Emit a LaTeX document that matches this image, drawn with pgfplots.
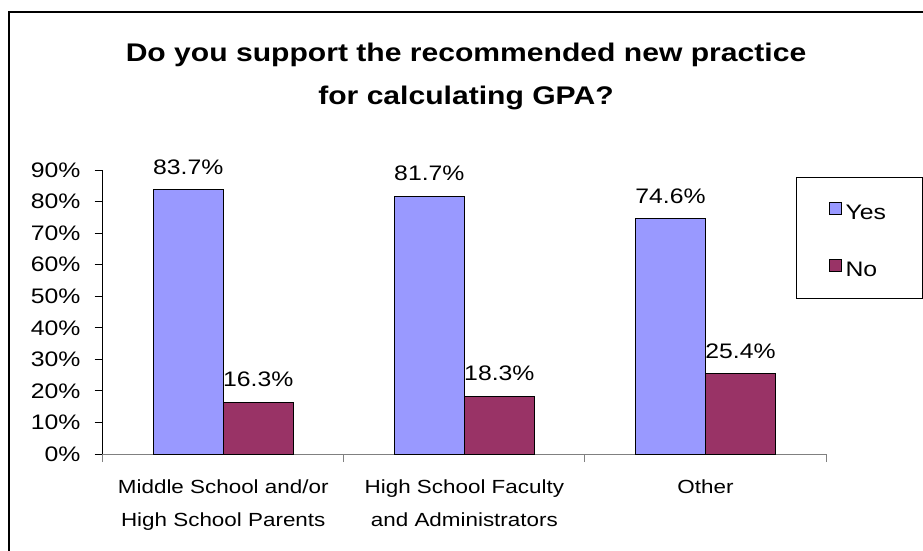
\documentclass[border=0pt]{standalone}
\usepackage{fontspec}
\setmainfont{Liberation Sans}[FakeStretch=1.18]
\usepackage{pgfplots}
\pgfplotsset{compat=1.18}
\definecolor{yescol}{HTML}{9999FF}
\definecolor{nocol}{HTML}{993366}
\begin{document}
\begin{tikzpicture}[x=1pt,y=1pt]
\draw[line width=1.5pt] (9,-552) -- (9,-12) -- (925,-12);
\node[anchor=base,font=\fontsize{25.5}{30}\selectfont\bfseries,inner sep=0pt] at (466,-61) {Do you support the recommended new practice};
\node[anchor=base,font=\fontsize{25.5}{30}\selectfont\bfseries,inner sep=0pt] at (466,-104) {for calculating GPA?};
\begin{axis}[
  at={(102.7pt,-454pt)}, anchor=south west,
  scale only axis, width=723.3pt, height=284pt,
  xmin=-0.5, xmax=2.5, ymin=0, ymax=90,
  ybar=0pt, bar width=70pt,
  axis x line*=bottom, axis y line*=left,
  x axis line style={-, draw=gray, line width=1pt},
  y axis line style={-, draw=black, line width=1pt},
  tick align=outside, major tick length=8pt,
  ytick={0,10,...,90},
  yticklabels={0\%,10\%,20\%,30\%,40\%,50\%,60\%,70\%,80\%,90\%},
  y tick style={black, line width=1pt},
  yticklabel style={font=\fontsize{21}{25}\selectfont, anchor=east, inner sep=0pt, xshift=-14pt},
  xtick={0,1,2},
  xticklabels={{Middle School and/or\\High School Parents},{High School Faculty\\and Administrators},{Other}},
  x tick style={draw=none},
  xticklabel style={font=\fontsize{19}{33}\selectfont, align=center, anchor=north, inner sep=0pt, yshift=-18pt},
  extra x ticks={-0.5,0.5,1.5,2.5},
  extra x tick labels={},
  extra x tick style={x tick style={draw=gray, line width=1pt}},
  /pgf/number format/assume math mode=true,
  nodes near coords={\pgfmathprintnumber[fixed,fixed zerofill,precision=1]{\pgfplotspointmeta}\%},
  every node near coord/.append style={font=\fontsize{21}{25}\selectfont, black, anchor=south, inner sep=0pt, yshift=15pt},
  legend style={draw=none, fill=none, at={(axis description cs:1.0042,0.8873)}, anchor=north west, inner sep=0pt, row sep={57pt,between origins}, column sep=2pt, font=\fontsize{21}{25}\selectfont, legend cell align=left},
  legend image code/.code={\draw[#1, line width=0.8pt] (0pt,-1.5pt) rectangle (11.5pt,10.5pt);},
]
\addplot[fill=yescol, draw=black, line width=0.8pt] coordinates {(0,83.7) (1,81.7) (2,74.6)};
\addplot[fill=nocol, draw=black, line width=0.8pt] coordinates {(0,16.3) (1,18.3) (2,25.4)};
\legend{Yes,No}
\end{axis}
\draw[line width=1pt] (796,-177) rectangle (922,-298);
\pgfresetboundingbox
\path[use as bounding box] (0,0) rectangle (923,-550);
\end{tikzpicture}
\end{document}
